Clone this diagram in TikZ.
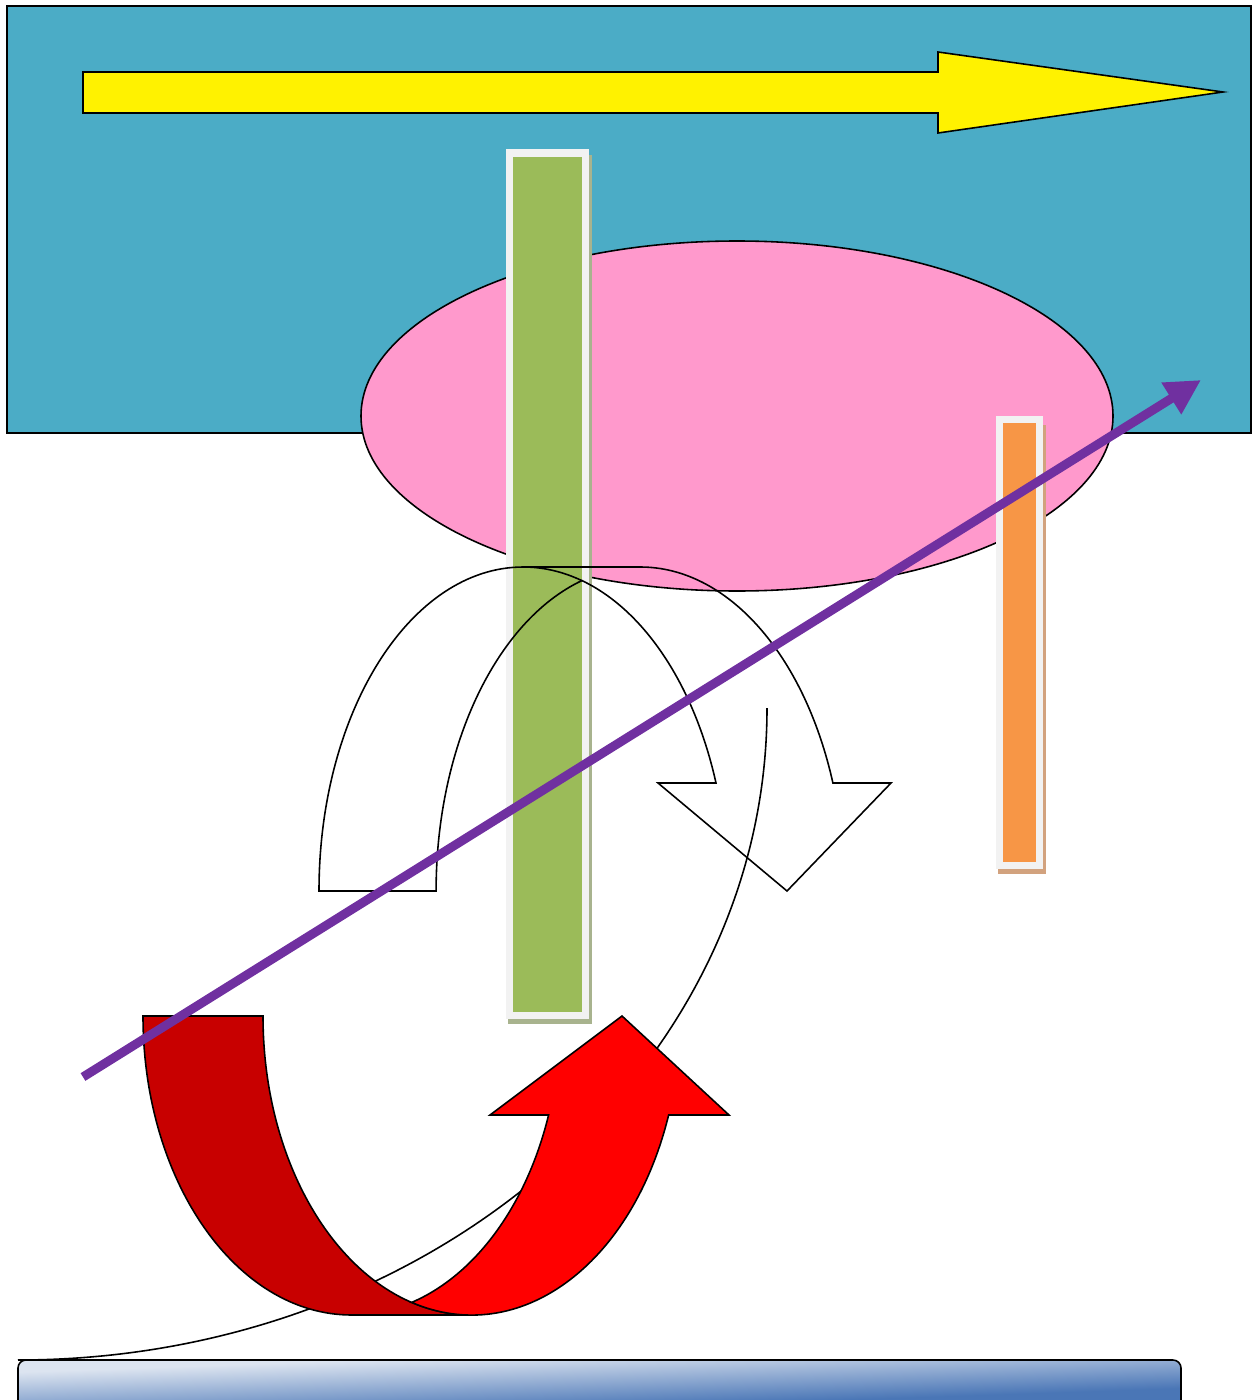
\documentclass[tikz,border=0pt]{standalone}
\usepackage{tikz}
\usetikzlibrary{arrows.meta}
\definecolor{seablue}{HTML}{4BACC6}
\definecolor{pinkfill}{HTML}{FF99CC}
\definecolor{leafgreen}{HTML}{9BBB59}
\definecolor{leafshadow}{HTML}{A8B38E}
\definecolor{amber}{HTML}{F79646}
\definecolor{ambershadow}{HTML}{D2A27E}
\definecolor{rimwhite}{HTML}{F2F2F2}
\definecolor{plum}{HTML}{7030A0}
\definecolor{deepred}{HTML}{C80000}
\definecolor{barlight}{HTML}{DCE4F0}
\definecolor{bardark}{HTML}{4A76B6}

\begin{document}
\begin{tikzpicture}[x=0.01cm, y=-0.01cm, >=Latex,
  outline/.style={draw=black, line width=0.45pt},
  rim/.style={draw=rimwhite, line width=0.07cm},
  plumline/.style={draw=plum, line width=0.09cm, -{Triangle[length=0.35cm,width=0.35cm]}}]
  \useasboundingbox (0,0) rectangle (1252,1400);

  \draw[outline, line width=0.6pt, fill=seablue] (7,6) rectangle (1251,433);
  \draw[outline, fill=yellow] (83,72) -- (938,72) -- (938,52) -- (1223,92)
    -- (938,133) -- (938,113) -- (83,113) -- cycle;
  \draw[outline, fill=pinkfill] (737,416) ellipse [x radius=376, y radius=175];

  % bars
  \fill[leafshadow] (508,155) rectangle (592,1024);
  \draw[rim, fill=leafgreen] (509,153) rectangle (585,1015);
  \fill[ambershadow] (998,425) rectangle (1046,874);
  \draw[rim, fill=amber] (999.5,419) rectangle (1039.5,865.5);

  % curved down arrow, outline only
  \draw[outline] (319,891) arc[start angle=180, end angle=270, x radius=204.3, y radius=324]
    -- (640.3,567) arc[start angle=270, end angle=340.53, x radius=204.3, y radius=324]
    -- (891,783) -- (787,891) -- (658,783) -- (716,783)
    arc[start angle=340.53, end angle=286.64, x radius=204.3, y radius=324]
    arc[start angle=253.36, end angle=180, x radius=204.3, y radius=324] -- cycle;
  \draw[outline] (523.3,567) arc[start angle=270, end angle=286.64, x radius=204.3, y radius=324];

  \coordinate (swing) at (18,1360);
  \draw[outline] (swing) arc[start angle=90, end angle=0, x radius=749, y radius=652];

  % curved up arrow
  \draw[outline, fill=deepred] (143,1016) -- (263,1016)
    arc[start angle=180, end angle=90, x radius=208.7, y radius=299]
    -- (351.7,1315) arc[start angle=90, end angle=180, x radius=208.7, y radius=299] -- cycle;
  \draw[outline, fill=red] (411.7,1302.4)
    arc[start angle=106.71, end angle=19.33, x radius=208.7, y radius=299]
    -- (729,1115) -- (622,1016) -- (490,1115) -- (548.6,1115)
    arc[start angle=19.33, end angle=73.29, x radius=208.7, y radius=299] -- cycle;

  \coordinate (tail) at (83,1077);
  \coordinate (tip) at (1201,380);
  \draw[plumline] (tail) -- (tip);

  % bottom bar, gradient stretched with the shape
  \begin{scope}
    \clip[rounded corners=0.08cm] (swing) rectangle (1181,1412);
    \begin{scope}[transform canvas={shift={(18,1360)}, xscale=11.63, yscale=0.4}]
      \shade[top color=barlight, bottom color=bardark, shading angle=45]
        (0,0) rectangle (100,100);
    \end{scope}
  \end{scope}
  \draw[outline, rounded corners=0.08cm] (swing) rectangle (1181,1412);
\end{tikzpicture}
\end{document}
